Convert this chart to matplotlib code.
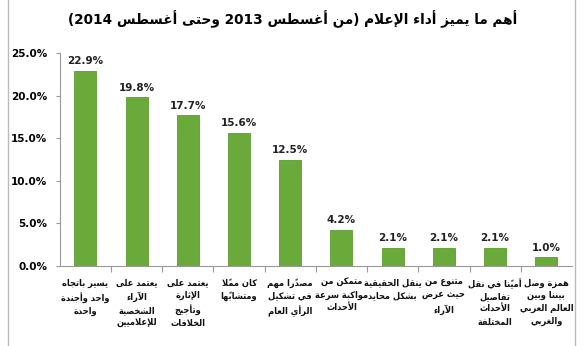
import matplotlib.pyplot as plt
import matplotlib.transforms as mtransforms
from matplotlib.patches import Rectangle

#%% data
title = 'أهم ما يميز أداء الإعلام (من أغسطس 2013 وحتى أغسطس 2014)'
categories = [
    'يسير باتجاه\nواحد وأجندة\nواحدة',
    'يعتمد على\nالآراء\nالشخصية\nللإعلاميين',
    'يعتمد على\nالإثارة\nوتأجيج\nالخلافات',
    'كان مملاً\nومتشابهًا',
    'مصدرًا مهم\nفي تشكيل\nالرأي العام',
    'متمكن من\nمواكبة سرعة\nالأحداث',
    'ينقل الحقيقية\nبشكل محايد',
    'متنوع من\nحيث عرض\nالآراء',
    'أمينًا في نقل\nتفاصيل\nالأحداث\nالمختلفة',
    'همزة وصل\nبيننا وبين\nالعالم العربي\nوالغربي',
]
values = [22.9, 19.8, 17.7, 15.6, 12.5, 4.2, 2.1, 2.1, 2.1, 1.0]
yticks = [0, 5, 10, 15, 20, 25]

#%% arabic shaping (matplotlib does no shaping / bidi)
# (isolated, final, initial, medial) ; 2 forms -> joins only to the right
FORMS = {
    'ء': (0xFE80,), 'آ': (0xFE81, 0xFE82), 'أ': (0xFE83, 0xFE84), 'ؤ': (0xFE85, 0xFE86),
    'إ': (0xFE87, 0xFE88), 'ئ': (0xFE89, 0xFE8A, 0xFE8B, 0xFE8C), 'ا': (0xFE8D, 0xFE8E),
    'ب': (0xFE8F, 0xFE90, 0xFE91, 0xFE92), 'ة': (0xFE93, 0xFE94),
    'ت': (0xFE95, 0xFE96, 0xFE97, 0xFE98), 'ث': (0xFE99, 0xFE9A, 0xFE9B, 0xFE9C),
    'ج': (0xFE9D, 0xFE9E, 0xFE9F, 0xFEA0), 'ح': (0xFEA1, 0xFEA2, 0xFEA3, 0xFEA4),
    'خ': (0xFEA5, 0xFEA6, 0xFEA7, 0xFEA8), 'د': (0xFEA9, 0xFEAA), 'ذ': (0xFEAB, 0xFEAC),
    'ر': (0xFEAD, 0xFEAE), 'ز': (0xFEAF, 0xFEB0), 'س': (0xFEB1, 0xFEB2, 0xFEB3, 0xFEB4),
    'ش': (0xFEB5, 0xFEB6, 0xFEB7, 0xFEB8), 'ص': (0xFEB9, 0xFEBA, 0xFEBB, 0xFEBC),
    'ض': (0xFEBD, 0xFEBE, 0xFEBF, 0xFEC0), 'ط': (0xFEC1, 0xFEC2, 0xFEC3, 0xFEC4),
    'ظ': (0xFEC5, 0xFEC6, 0xFEC7, 0xFEC8), 'ع': (0xFEC9, 0xFECA, 0xFECB, 0xFECC),
    'غ': (0xFECD, 0xFECE, 0xFECF, 0xFED0), 'ف': (0xFED1, 0xFED2, 0xFED3, 0xFED4),
    'ق': (0xFED5, 0xFED6, 0xFED7, 0xFED8), 'ك': (0xFED9, 0xFEDA, 0xFEDB, 0xFEDC),
    'ل': (0xFEDD, 0xFEDE, 0xFEDF, 0xFEE0), 'م': (0xFEE1, 0xFEE2, 0xFEE3, 0xFEE4),
    'ن': (0xFEE5, 0xFEE6, 0xFEE7, 0xFEE8), 'ه': (0xFEE9, 0xFEEA, 0xFEEB, 0xFEEC),
    'و': (0xFEED, 0xFEEE), 'ى': (0xFEEF, 0xFEF0), 'ي': (0xFEF1, 0xFEF2, 0xFEF3, 0xFEF4),
}
LAM_ALEF = {'آ': (0xFEF5, 0xFEF6), 'أ': (0xFEF7, 0xFEF8), 'إ': (0xFEF9, 0xFEFA), 'ا': (0xFEFB, 0xFEFC)}
MARKS = set(chr(c) for c in range(0x064B, 0x0653))


def shape_line(s):
    # clusters of (letter, marks)
    cl = []
    for ch in s:
        if ch in MARKS and cl:
            cl[-1][1] += ch
        else:
            cl.append([ch, ''])
    # lam-alef ligatures
    merged = []
    i = 0
    while i < len(cl):
        if cl[i][0] == 'ل' and i + 1 < len(cl) and cl[i + 1][0] in LAM_ALEF:
            merged.append(['LA' + cl[i + 1][0], cl[i][1] + cl[i + 1][1]])
            i += 2
        else:
            merged.append(cl[i])
            i += 1
    cl = merged

    def joins_left(c):  # can connect to following letter
        if c.startswith('LA'):
            return False
        return c in FORMS and len(FORMS[c]) == 4

    def joining(c):
        return c.startswith('LA') or c in FORMS and len(FORMS[c]) > 1

    out = []
    for i, (c, m) in enumerate(cl):
        prev = cl[i - 1][0] if i > 0 else ''
        nxt = cl[i + 1][0] if i + 1 < len(cl) else ''
        p = joining(c) and joins_left(prev)
        if c.startswith('LA'):
            g = chr(LAM_ALEF[c[2]][1 if p else 0])
        elif c in FORMS:
            f = FORMS[c]
            n = len(f) == 4 and joining(nxt)
            if p and n:
                g = chr(f[3])
            elif n:
                g = chr(f[2])
            elif p and len(f) > 1:
                g = chr(f[1])
            else:
                g = chr(f[0])
        else:
            g = c
        out.append(g + m)

    # visual order: reverse clusters, keep latin / digit runs left-to-right
    out = out[::-1]
    res = []
    run = []
    for g in out:
        if g[0].isascii() and (g[0].isalnum() or g[0] in '.%'):
            run.append(g)
        else:
            if run:
                res.extend(run[::-1])
                run = []
            res.append({'(': ')', ')': '('}.get(g, g))
    res.extend(run[::-1])
    return ''.join(res)


def ar(s):
    return '\n'.join(shape_line(line) for line in s.split('\n'))


#%% plot
plt.rcParams['font.family'] = ['DejaVu Sans']
fig = plt.figure(figsize=(5.86, 3.46), dpi=100)
ax = fig.add_axes([0.102, 0.232, 0.874, 0.614])

x = range(len(values))
ax.bar(x, values, width=0.43, color='#6aaa3a', edgecolor='#5c9a30', linewidth=0.6, zorder=2)

for i, v in enumerate(values):
    ax.text(i, v + 0.55, '%.1f%%' % v, ha='center', va='bottom', fontsize=7.5,
            fontweight='bold', color='#222222')

ax.set_xlim(-0.5, len(values) - 0.5)
ax.set_ylim(0, 25)
ax.set_yticks(yticks)
ax.set_yticklabels(['%.1f%%' % t for t in yticks], fontsize=7.5, fontweight='bold')
ax.set_xticks([i + 0.5 for i in range(len(values) - 1)])
ax.set_xticklabels([])
ax.tick_params(axis='x', length=4, color='#999999', direction='out')
ax.tick_params(axis='y', length=3, color='#999999', pad=6)

for sp in ['top', 'right']:
    ax.spines[sp].set_visible(False)
for sp in ['left', 'bottom']:
    ax.spines[sp].set_color('#999999')
    ax.spines[sp].set_linewidth(0.8)

# category labels under each bar
trans = mtransforms.blended_transform_factory(ax.transData, ax.transAxes)
for i, c in enumerate(categories):
    ax.text(i, -0.06, ar(c), transform=trans, ha='center', va='top', fontsize=6.7,
            fontweight='bold', fontstretch='condensed', linespacing=1.5, color='#111111')

fig.text(0.5, 0.945, ar(title), ha='center', va='center', fontsize=9.8, fontweight='bold')

# outer chart frame
fig.patches.append(Rectangle((0.014, -0.01), 0.968, 1.03, transform=fig.transFigure,
                             fill=False, edgecolor='#bbbbbb', linewidth=1.0))

plt.savefig('out.png', dpi=100)
